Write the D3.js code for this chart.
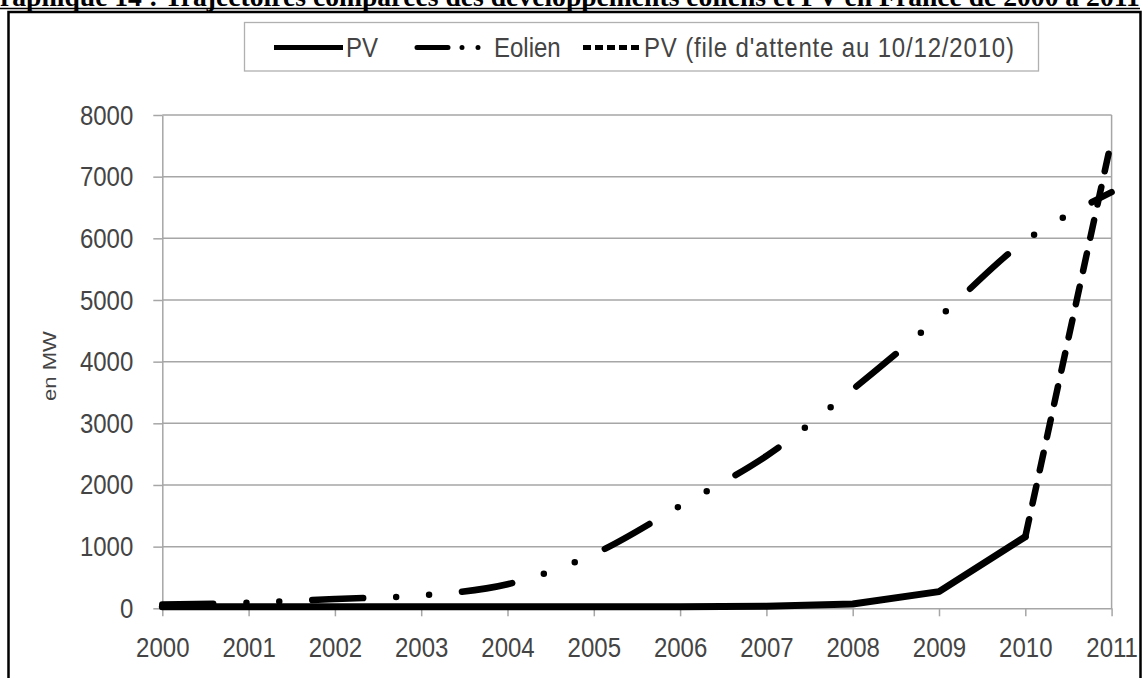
<!DOCTYPE html>
<html>
<head>
<meta charset="utf-8">
<script src="https://cdn.jsdelivr.net/npm/d3@7"></script>
<style>
    body { margin: 0; background: #fff; }
    svg { display: block; }
    .tall { transform-box: fill-box; transform-origin: center; transform: scaleY(1.16); }
</style>
</head>
<body>
<div id="chart-area"></div>
<script>
// data
const years = [2000, 2001, 2002, 2003, 2004, 2005, 2006, 2007, 2008, 2009, 2010, 2011];
const pvYears = [2000, 2001, 2002, 2003, 2004, 2005, 2006, 2007, 2008, 2009, 2010];
const pvValues = [25, 25, 25, 25, 25, 25, 25, 35, 70, 270, 1160];
const eolienValues = [60, 90, 150, 210, 390, 880, 1660, 2470, 3550, 4720, 5960, 6750];
const queueYears = [2010, 2011];
const queueValues = [1160, 7600];
const yTicks = [0, 1000, 2000, 3000, 4000, 5000, 6000, 7000, 8000];
const legendLabels = ["PV", "Eolien", "PV (file d'attente au 10/12/2010)"];
const titleText = "Graphique 14 : Trajectoires comparées des développements éoliens et PV en France de 2000 à 2011";
const yLabel = "en MW";

const W = 1147, H = 678;
const plot = { left: 162.3, right: 1111.6, top: 115, bottom: 608.3 };
const font = "'Liberation Sans', Arial, sans-serif";
const grey = "#a6a6a6";
const textCol = "#444";

const svg = d3.select("#chart-area")
    .append("svg")
    .attr("width", W)
    .attr("height", H);

svg.append("rect").attr("width", W).attr("height", H).attr("fill", "#fff");

// title, cut off at the top of the page
const title = svg.append("text")
    .attr("font-family", "'Liberation Serif', 'Times New Roman', serif")
    .attr("font-weight", "bold")
    .attr("font-size", 100)
    .attr("fill", "#000")
    .text(titleText);
const full = title.node().getComputedTextLength();
const g0 = svg.append("text").attr("font-family", "'Liberation Serif', serif")
    .attr("font-weight", "bold").attr("font-size", 100).text("G");
const gW = g0.node().getComputedTextLength();
g0.remove();
const fs = 100 * 1140 / (full - gW);
title.attr("font-size", fs).attr("x", -gW * fs / 100).attr("y", 6);
svg.append("line")
    .attr("x1", 0).attr("x2", 1140).attr("y1", 8.5).attr("y2", 8.5)
    .attr("stroke", "#000").attr("stroke-width", 1.6);

// outer frame
svg.append("rect")
    .attr("x", 8.5).attr("y", 12)
    .attr("width", 1132).attr("height", 700)
    .attr("fill", "none").attr("stroke", "#000").attr("stroke-width", 2.5);

const x = d3.scaleLinear().domain([2000, 2011]).range([plot.left, plot.right]);
const y = d3.scaleLinear().domain([0, 8000]).range([plot.bottom, plot.top]);

// grid
svg.append("g").selectAll("line")
    .data(yTicks.filter(d => d > 0))
    .join("line")
    .attr("x1", plot.left).attr("x2", plot.right)
    .attr("y1", d => y(d)).attr("y2", d => y(d))
    .attr("stroke", grey).attr("stroke-width", 1.5);

svg.append("line")
    .attr("x1", plot.right).attr("x2", plot.right)
    .attr("y1", plot.top).attr("y2", plot.bottom)
    .attr("stroke", grey).attr("stroke-width", 1.5);

// axes
const yAxis = svg.append("g")
    .attr("transform", `translate(${plot.left},0)`)
    .call(d3.axisLeft(y).tickValues(yTicks).tickFormat(d3.format("d"))
        .tickSize(9).tickSizeOuter(0).tickPadding(20));
const xAxis = svg.append("g")
    .attr("transform", `translate(0,${plot.bottom})`)
    .call(d3.axisBottom(x).tickValues(years).tickFormat(d3.format("d"))
        .tickSize(8).tickSizeOuter(0).tickPadding(22));

[yAxis, xAxis].forEach(a => {
    a.select(".domain").attr("stroke", grey).attr("stroke-width", 1.5);
    a.selectAll(".tick line").attr("stroke", grey).attr("stroke-width", 1.5);
    a.selectAll("text")
        .attr("class", "tall")
        .attr("font-family", font)
        .attr("font-size", 24)
        .attr("fill", textCol);
});

svg.append("text")
    .attr("transform", "translate(56,366) rotate(-90) scale(1.16,1)")
    .attr("text-anchor", "middle")
    .attr("font-family", font)
    .attr("font-size", 19)
    .attr("fill", textCol)
    .text(yLabel);

// series
const lineSmooth = d3.line().x(d => x(d[0])).y(d => y(d[1])).curve(d3.curveCatmullRom);
const lineStraight = d3.line().x(d => x(d[0])).y(d => y(d[1]));

svg.append("path")
    .attr("d", lineStraight(d3.zip(pvYears, pvValues)))
    .attr("fill", "none").attr("stroke", "#000").attr("stroke-width", 7)
    .attr("stroke-linejoin", "round").attr("stroke-linecap", "round");

svg.append("path")
    .attr("d", lineSmooth(d3.zip(years, eolienValues)))
    .attr("fill", "none").attr("stroke", "#000").attr("stroke-width", 6.5)
    .attr("stroke-dasharray", "51,33,0,33,0,33")
    .attr("stroke-linecap", "round");

svg.append("path")
    .attr("d", lineStraight(d3.zip(queueYears, queueValues)))
    .attr("fill", "none").attr("stroke", "#000").attr("stroke-width", 6.5)
    .attr("stroke-dasharray", "18,16")
    .attr("stroke-linecap", "round");

// legend
const legend = svg.append("g");
legend.append("rect")
    .attr("x", 244.5).attr("y", 22.5).attr("width", 794).attr("height", 48.5)
    .attr("fill", "#fff").attr("stroke", "#b0b0b0").attr("stroke-width", 1.3);

const legendItems = [
    { x1: 274, x2: 343, dash: null, tx: 346 },
    { x1: 417, x2: 482, dash: "31,14,0,16,0,14", tx: 494 },
    { x1: 583, x2: 641, dash: "8,4", tx: 644, len: 370 }
];
legendItems.forEach((it, i) => {
    legend.append("line")
        .attr("x1", it.x1).attr("x2", it.x2).attr("y1", 47.5).attr("y2", 47.5)
        .attr("stroke", "#000").attr("stroke-width", 5)
        .attr("stroke-dasharray", it.dash)
        .attr("stroke-linecap", i === 1 ? "round" : "butt");
    const t = legend.append("text")
        .attr("class", "tall")
        .attr("x", it.tx).attr("y", 56)
        .attr("font-family", font).attr("font-size", 24)
        .attr("fill", textCol)
        .text(legendLabels[i]);
    if (it.len) t.attr("textLength", it.len).attr("lengthAdjust", "spacing");
});
</script>
</body>
</html>
